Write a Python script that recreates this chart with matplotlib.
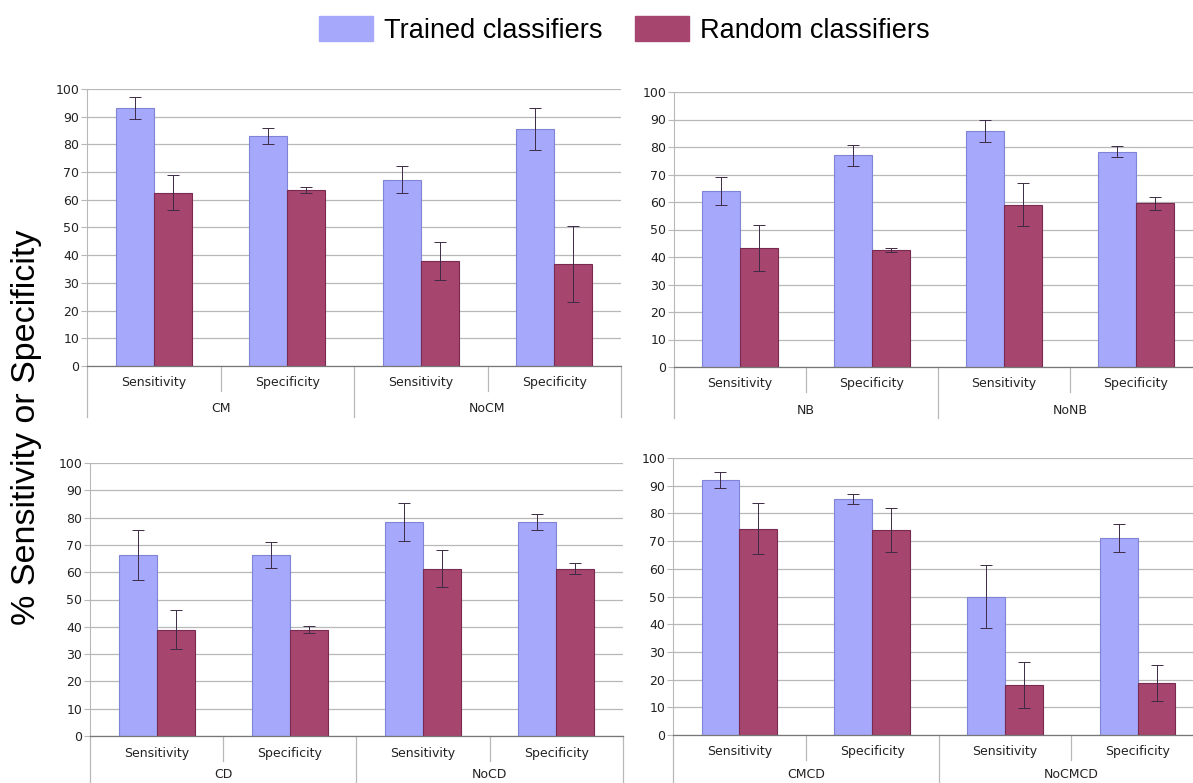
import numpy as np
import matplotlib
matplotlib.use("Agg")
import matplotlib.pyplot as plt
from matplotlib.patches import Patch
from matplotlib import transforms

plt.rcParams['font.family'] = 'DejaVu Sans'

# Measures shown under each bar pair, and the two groups per panel.
measures = ["Sensitivity", "Specificity", "Sensitivity", "Specificity"]
groups_cm = ["CM", "NoCM"]
groups_nb = ["NB", "NoNB"]
groups_cd = ["CD", "NoCD"]
groups_cmcd = ["CMCD", "NoCMCD"]

# Mean % and error for trained / random classifiers, per panel.
trained_cm = [93.0, 83.0, 67.3, 85.5]
trained_cm_err = [4.0, 3.0, 5.0, 7.7]
random_cm = [62.5, 63.5, 37.8, 36.8]
random_cm_err = [6.3, 1.0, 6.8, 13.8]

trained_nb = [64.0, 77.0, 86.0, 78.2]
trained_nb_err = [5.0, 3.8, 4.0, 2.0]
random_nb = [43.3, 42.7, 59.0, 59.6]
random_nb_err = [8.5, 0.7, 7.8, 2.4]

trained_cd = [66.3, 66.3, 78.3, 78.3]
trained_cd_err = [9.0, 4.8, 7.0, 2.9]
random_cd = [39.0, 39.0, 61.3, 61.3]
random_cd_err = [7.0, 1.2, 6.7, 2.1]

trained_cmcd = [92.0, 85.3, 50.0, 71.2]
trained_cmcd_err = [3.0, 1.8, 11.2, 5.0]
random_cmcd = [74.5, 74.0, 18.0, 18.7]
random_cmcd_err = [9.3, 7.8, 8.3, 6.6]

BLUE = "#a6a8fb"
BLUE_EDGE = "#7f84d6"
PURPLE = "#a6466f"
PURPLE_EDGE = "#7a2a50"
ERR = "#3d2b45"
GRID = "#b8b8b8"

fig = plt.figure(figsize=(11.93, 7.83), dpi=100)


def panel(rect, trained, trained_err, rand, rand_err, groups, group_off=43):
    ax = fig.add_axes(rect)
    x = np.arange(len(measures))
    w = 0.285
    ax.bar(x - w / 2, trained, w, color=BLUE, edgecolor=BLUE_EDGE, linewidth=0.8, zorder=2)
    ax.bar(x + w / 2, rand, w, color=PURPLE, edgecolor=PURPLE_EDGE, linewidth=0.8, zorder=2)
    ax.errorbar(x - w / 2, trained, yerr=trained_err, fmt='none', ecolor=ERR,
                elinewidth=0.7, capsize=4, capthick=0.7, zorder=3)
    ax.errorbar(x + w / 2, rand, yerr=rand_err, fmt='none', ecolor=ERR,
                elinewidth=0.7, capsize=4, capthick=0.7, zorder=3)

    ax.set_xlim(-0.5, 3.5)
    ax.set_ylim(0, 100)
    ax.set_yticks(range(0, 101, 10))
    ax.yaxis.grid(True, color=GRID, linewidth=0.9)
    ax.set_axisbelow(True)
    ax.tick_params(axis='y', labelsize=9, length=4, width=0.8, color=GRID, pad=1.5,
                   labelcolor="#222222")
    ax.set_xticks([])
    for s in ['top', 'right']:
        ax.spines[s].set_visible(False)
    ax.spines['left'].set_color(GRID)
    ax.spines['bottom'].set_color("#777777")
    ax.spines['bottom'].set_linewidth(0.9)

    # two-level category axis below the bars
    hpx = ax.bbox.height
    trans = transforms.blended_transform_factory(ax.transData, ax.transAxes)
    for xs in [0.5, 2.5]:
        ax.plot([xs, xs], [0, -25 / hpx], transform=trans, color=GRID,
                linewidth=0.9, clip_on=False)
    for xs in [-0.5, 1.5, 3.5]:
        ax.plot([xs, xs], [0, -51 / hpx], transform=trans, color=GRID,
                linewidth=0.9, clip_on=False)
    for i, m in enumerate(measures):
        ax.text(i, -17 / hpx, m, transform=trans, ha='center', va='center',
                fontsize=9, color="#222222")
    for j, g in enumerate(groups):
        ax.text(0.5 + 2 * j, -group_off / hpx, g, transform=trans, ha='center',
                va='center', fontsize=9, color="#222222")
    return ax


W, H = 1193.0, 783.0


def rect(left, right, top, zero):
    return [left / W, 1 - zero / H, (right - left) / W, (zero - top) / H]


panel(rect(87, 621, 89, 366), trained_cm, trained_cm_err, random_cm, random_cm_err, groups_cm)
panel(rect(674, 1202, 92, 367), trained_nb, trained_nb_err, random_nb, random_nb_err, groups_nb)
panel(rect(90, 623, 463, 736), trained_cd, trained_cd_err, random_cd, random_cd_err,
      groups_cd, group_off=39)
panel(rect(673, 1204, 458, 735), trained_cmcd, trained_cmcd_err, random_cmcd, random_cmcd_err,
      groups_cmcd, group_off=40)

handles = [Patch(facecolor=BLUE, edgecolor=BLUE, label="Trained classifiers"),
           Patch(facecolor=PURPLE, edgecolor=PURPLE, label="Random classifiers")]
fig.legend(handles=handles, loc='center', bbox_to_anchor=(624 / W, 1 - 30 / H),
           ncol=2, frameon=False, prop={'family': 'Liberation Sans', 'size': 19.5},
           handlelength=2.0, handleheight=1.0, handletextpad=0.4,
           columnspacing=1.2)

fig.text(27 / W, 1 - 427 / H, "% Sensitivity or Specificity", rotation=90,
         ha='center', va='center', fontsize=24.5, family='Liberation Sans')

fig.savefig("out.png", dpi=100)
